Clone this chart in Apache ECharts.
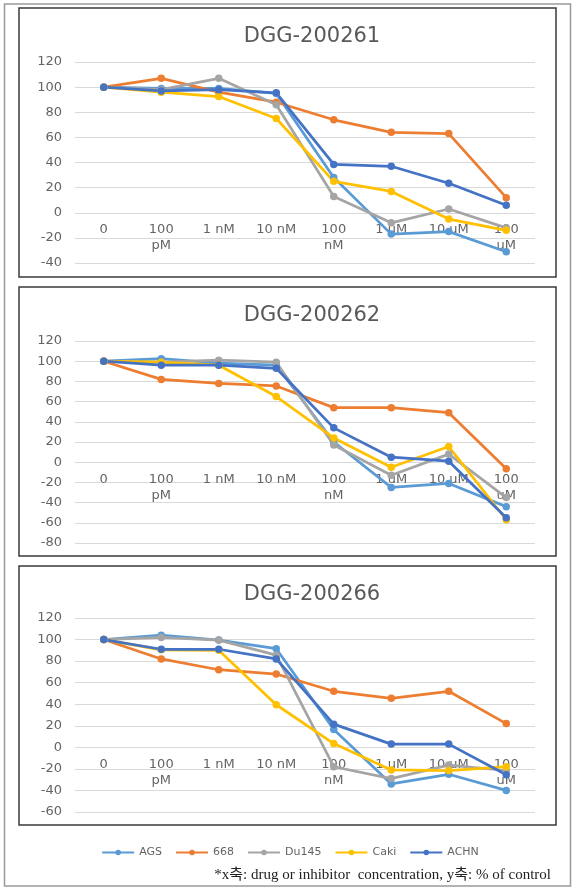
<!DOCTYPE html>
<html>
<head>
<meta charset="utf-8">
<script src="https://cdn.jsdelivr.net/npm/echarts@6/dist/echarts.min.js"></script>
<style>
html,body{margin:0;padding:0;background:#fff;}
#c{width:580px;height:891px;}
</style>
</head>
<body>
<div id="c"></div>
<script>
const categories = ['0', '100\npM', '1 nM', '10 nM', '100\nnM', '1 uM', '10 uM', '100\nuM'];
const seriesNames = ['AGS', '668', 'Du145', 'Caki', 'ACHN'];
const seriesColors = ['#5B9BD5', '#ED7D31', '#A5A5A5', '#FFC000', '#4472C4'];
const panelTitles = ['DGG-200261', 'DGG-200262', 'DGG-200266'];
const yMin = [-40, -80, -60];
const yMax = [120, 120, 120];

// DGG-200261
const dgg200261_AGS   = [100, 99, 99, 95, 28, -17, -15, -31];
const dgg200261_668   = [100, 107, 96, 88, 74, 64, 63, 12];
const dgg200261_Du145 = [100, 98, 107, 86, 13, -8, 3, -12];
const dgg200261_Caki  = [100, 96, 92.5, 75, 25, 17, -5, -14];
const dgg200261_ACHN  = [100, 97, 98, 95.5, 38.5, 37, 23.5, 6];
// DGG-200262
const dgg200262_AGS   = [100, 102.5, 98, 96, 20, -25, -21, -44];
const dgg200262_668   = [100, 82, 78, 75.5, 54, 54, 49, -6.5];
const dgg200262_Du145 = [100, 99, 101, 99, 17, -13, 8, -35];
const dgg200262_Caki  = [100, 99, 96, 65, 24, -5, 15.5, -57];
const dgg200262_ACHN  = [100, 96, 96, 93, 34, 5, 1, -55];
// DGG-200266
const dgg200266_AGS   = [100, 104, 99.5, 91.5, 16.5, -34, -25, -40];
const dgg200266_668   = [100, 82, 72, 68, 52, 45.5, 52, 22];
const dgg200266_Du145 = [100, 102, 99.5, 85.5, -18, -29, -16.5, -21.5];
const dgg200266_Caki  = [100, 90.5, 90, 39.5, 3.5, -21, -21.5, -18];
const dgg200266_ACHN  = [100, 91, 91, 82, 21.5, 3, 3, -25.5];

const panelData = [
  [dgg200261_AGS, dgg200261_668, dgg200261_Du145, dgg200261_Caki, dgg200261_ACHN],
  [dgg200262_AGS, dgg200262_668, dgg200262_Du145, dgg200262_Caki, dgg200262_ACHN],
  [dgg200266_AGS, dgg200266_668, dgg200266_Du145, dgg200266_Caki, dgg200266_ACHN]
];

const footnote = '*x축: drug or inhibitor  concentration, y축: % of control';

// layout (pixels)
const gridTops = [62, 341, 618];
const gridHeights = [201, 202, 194];
const titleTops = [21, 300, 579];
const boxes = [[19, 8, 537, 269], [19, 287, 537, 269], [19, 566, 537, 259]];

const font = 'DejaVu Sans, Liberation Sans, sans-serif';
const textColor = '#646464';

const grids = [], xAxes = [], yAxes = [], series = [], titles = [];
for (let p = 0; p < 3; p++) {
  grids.push({left: 75, width: 460, top: gridTops[p], height: gridHeights[p], containLabel: false});
  titles.push({
    text: panelTitles[p], left: 307, top: titleTops[p], textAlign: 'center',
    textStyle: {fontFamily: font, fontSize: 21, fontWeight: 'normal', color: '#595959'}
  });
  // category axis sits on the value 0 line (like Excel): shift it up from the grid bottom
  const zeroOffset = -gridHeights[p] * (0 - yMin[p]) / (yMax[p] - yMin[p]);
  xAxes.push({
    type: 'category', gridIndex: p, data: categories, boundaryGap: true,
    position: 'bottom', offset: zeroOffset,
    axisLine: {show: false, onZero: false},
    axisTick: {show: false},
    axisLabel: {color: textColor, fontFamily: font, fontSize: 13, lineHeight: 16, margin: 9, interval: 0}
  });
  yAxes.push({
    type: 'value', gridIndex: p, min: yMin[p], max: yMax[p], interval: 20,
    axisLine: {show: false}, axisTick: {show: false},
    axisLabel: {color: textColor, fontFamily: font, fontSize: 13, margin: 13},
    splitLine: {lineStyle: {color: '#d9d9d9', width: 1}}
  });
  for (let s = 0; s < seriesNames.length; s++) {
    series.push({
      type: 'line', name: seriesNames[s], xAxisIndex: p, yAxisIndex: p,
      data: panelData[p][s], symbol: 'circle', symbolSize: 7.5,
      lineStyle: {color: seriesColors[s], width: 2.75},
      itemStyle: {color: seriesColors[s]},
      animation: false
    });
  }
}

const graphics = [
  {type: 'rect', shape: {x: 4.5, y: 4, width: 566, height: 882}, style: {fill: 'none', stroke: '#9a9a9a', lineWidth: 1.5}, z: 0}
];
boxes.forEach(b => graphics.push({
  type: 'rect', shape: {x: b[0], y: b[1], width: b[2], height: b[3]},
  style: {fill: 'none', stroke: '#3a3a3a', lineWidth: 1.5}, z: 0
}));
graphics.push({
  type: 'text', right: 29, top: 868,
  style: {text: footnote, font: '15px "Liberation Serif", "Noto Sans CJK KR", serif', fill: '#222'}
});

const chart = echarts.init(document.getElementById('c'), null, {renderer: 'canvas'});
chart.setOption({
  animation: false,
  color: seriesColors,
  title: titles,
  grid: grids,
  xAxis: xAxes,
  yAxis: yAxes,
  legend: {
    data: seriesNames, left: 'center', top: 842, itemWidth: 32, itemHeight: 7, itemGap: 13,
    textStyle: {color: textColor, fontFamily: font, fontSize: 11}
  },
  graphic: graphics,
  series: series
});
</script>
</body>
</html>
